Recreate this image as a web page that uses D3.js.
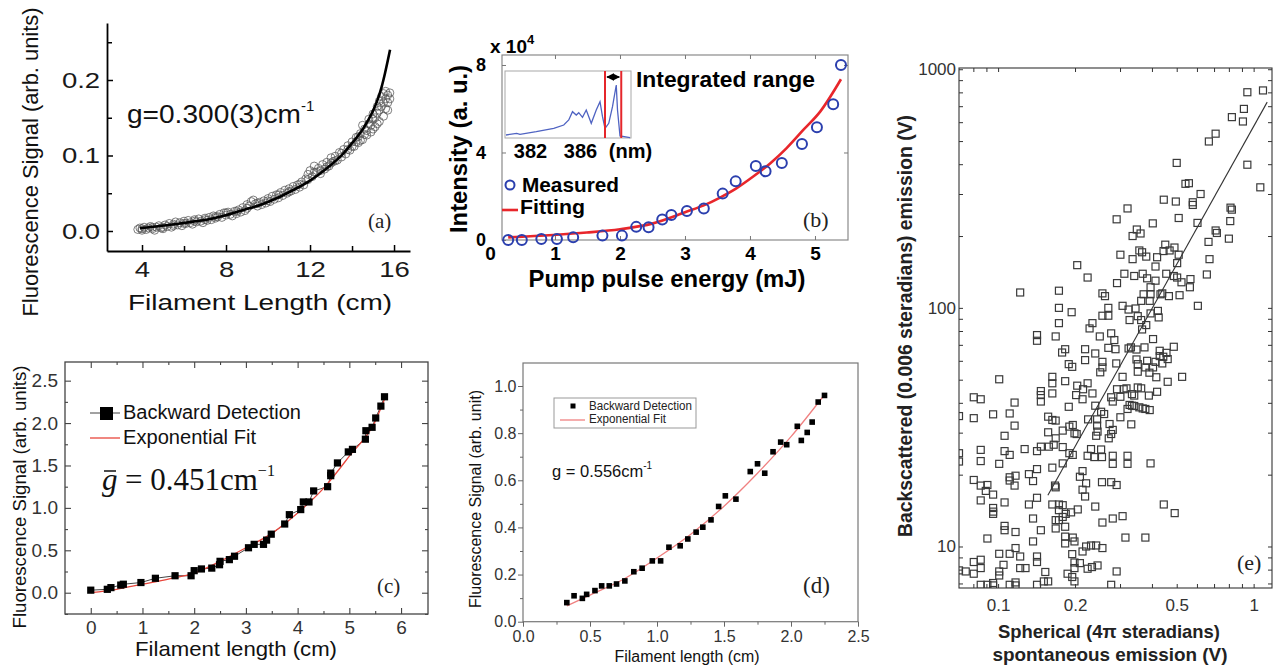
<!DOCTYPE html>
<html><head><meta charset="utf-8">
<script src="https://cdn.jsdelivr.net/npm/d3@7"></script>
<style>body{margin:0;background:#fff}svg{display:block}</style>
</head><body>
<svg id="c" width="1276" height="669"></svg>
<script>
// ================= DATA =================
// Panel (a)
const aXTicks=[4,8,12,16], aXMinor=[6,10,14], aYTicks=[0,0.1,0.2], aYMinor=[0.05,0.15,0.25];
const aPts=[[3.8,0.002],[3.9,0.004],[4.0,0.003],[4.1,0.005],[4.2,0.002],[4.3,0.004],[4.4,0.006],[4.5,0.003],[4.6,0.001],[4.7,0.005],[4.8,0.007],[4.9,0.004],[5.0,0.003],[5.1,0.008],[5.2,0.006],[5.3,0.010],[5.4,0.005],[5.5,0.009],[5.6,0.012],[5.7,0.008],[5.8,0.011],[5.9,0.007],[6.0,0.013],[6.1,0.010],[6.2,0.014],[6.3,0.011],[6.4,0.009],[6.5,0.015],[6.6,0.012],[6.7,0.016],[6.8,0.013],[6.9,0.011],[7.0,0.017],[7.1,0.014],[7.2,0.018],[7.3,0.015],[7.4,0.020],[7.5,0.017],[7.6,0.019],[7.7,0.022],[7.8,0.018],[7.9,0.024],[8.0,0.021],[8.1,0.025],[8.2,0.022],[8.3,0.020],[8.4,0.026],[8.5,0.023],[8.6,0.028],[8.7,0.025],[8.8,0.031],[8.9,0.027],[9.0,0.035],[9.1,0.033],[9.2,0.039],[9.3,0.041],[9.4,0.036],[9.5,0.033],[9.6,0.038],[9.7,0.035],[9.8,0.040],[9.9,0.037],[10.0,0.043],[10.1,0.039],[10.2,0.046],[10.3,0.042],[10.4,0.048],[10.5,0.044],[10.6,0.051],[10.7,0.047],[10.8,0.054],[10.9,0.050],[11.0,0.056],[11.1,0.053],[11.2,0.059],[11.3,0.055],[11.4,0.061],[11.5,0.058],[11.6,0.065],[11.7,0.061],[11.8,0.069],[11.9,0.075],[12.0,0.080],[12.1,0.072],[12.2,0.086],[12.3,0.078],[12.4,0.083],[12.5,0.076],[12.6,0.088],[12.7,0.082],[12.8,0.091],[12.9,0.086],[13.0,0.097],[13.1,0.092],[13.2,0.099],[13.3,0.094],[13.4,0.104],[13.5,0.098],[13.6,0.108],[13.7,0.102],[13.8,0.113],[13.9,0.107],[14.0,0.118],[14.1,0.112],[14.2,0.124],[14.3,0.117],[14.4,0.129],[14.5,0.121],[14.6,0.135],[14.7,0.127],[14.8,0.142],[14.9,0.131],[15.0,0.148],[15.1,0.138],[15.2,0.156],[15.3,0.145],[15.4,0.165],[15.5,0.152],[15.6,0.175],[15.7,0.160],[15.8,0.183],
[14.3,0.125],[14.5,0.140],[14.6,0.128],[14.8,0.148],[14.9,0.140],[15.0,0.155],[15.1,0.150],[15.2,0.165],[15.3,0.172],[15.3,0.160],[15.4,0.178],[15.5,0.182],[15.5,0.170],[15.6,0.185],[15.6,0.162],[15.7,0.180],[15.7,0.170],[15.8,0.175],[15.2,0.142],[15.0,0.135],[14.7,0.133],[14.4,0.120],[14.2,0.118],[14.0,0.112],[13.8,0.108],[13.5,0.103],[13.2,0.093],[13.0,0.090],[12.8,0.085],[12.5,0.080],[12.2,0.078],[11.9,0.068],[11.5,0.062],[11.0,0.052],[10.5,0.048],[10.0,0.040],[9.5,0.037],[9.0,0.030],[8.5,0.026],[8.0,0.024],[7.5,0.019],[7.0,0.015],[6.5,0.013],[6.0,0.010],[5.5,0.007],[5.0,0.005],[4.5,0.005],[4.0,0.001]];
const aFitX=[3.9,4.86,5.65,6.44,7.24,8.03,8.82,9.62,10.41,11.2,12.0,12.8,13.59,14.06,14.54,14.94,15.18,15.41,15.57,15.81];
const aFitY=[0.0036,0.0066,0.0093,0.0124,0.0159,0.0212,0.0278,0.0344,0.0433,0.0543,0.0667,0.083,0.1029,0.1183,0.136,0.156,0.171,0.191,0.209,0.240];

// Panel (b)
const bXTicks=[0,1,2,3,4,5], bYTicks=[0,4,8];
const bX=[0.28,0.49,0.79,1.03,1.28,1.73,2.03,2.25,2.44,2.65,2.79,3.03,3.29,3.58,3.78,4.09,4.24,4.49,4.80,5.03,5.28,5.40];
const bY=[0,0,0.05,0.05,0.12,0.2,0.2,0.6,0.58,0.94,1.14,1.33,1.44,2.12,2.68,3.38,3.14,3.52,4.39,5.15,6.21,8.0];
const bFitX=[0.28,0.97,1.49,2.0,2.51,3.03,3.28,3.54,3.79,4.05,4.31,4.56,4.82,5.08,5.40];
const bFitY=[0.12,0.23,0.34,0.49,0.76,1.30,1.57,1.94,2.36,2.90,3.50,4.19,5.03,5.87,7.35];
const bInsetTicks=[382,386,390], bInsetLabels=["382","386","(nm)"];
const bSpecX=[380.08,380.93,381.2,382.5,383.9,384.7,385.1,385.4,385.7,385.9,386.2,386.5,386.9,387.3,387.6,387.8,388.0,388.3,388.6,388.9,389.0,389.2,390.0];
const bSpecY=[0.045,0.07,0.055,0.094,0.144,0.194,0.269,0.393,0.343,0.378,0.309,0.418,0.219,0.418,0.542,0.318,0.144,0.219,0.468,0.791,0.418,0.03,0.005];
const bRange=[388.0,389.3];

// Panel (c)
const cXTicks=[0,1,2,3,4,5,6], cXMinor=[0.5,1.5,2.5,3.5,4.5,5.5], cYTicks=[0,0.5,1.0,1.5,2.0,2.5], cYMinor=[-0.25,0.25,0.75,1.25,1.75,2.25];
const cX=[0,0.32,0.39,0.58,0.63,0.97,1.25,1.63,1.94,2.0,2.14,2.34,2.49,2.50,2.68,2.78,3.05,3.16,3.34,3.40,3.49,3.75,3.84,4.06,4.11,4.22,4.31,4.58,4.64,4.64,4.77,4.98,5.06,5.31,5.32,5.44,5.51,5.61,5.68];
const cY=[0.03,0.04,0.06,0.09,0.10,0.12,0.17,0.20,0.20,0.26,0.28,0.29,0.33,0.37,0.39,0.43,0.53,0.57,0.57,0.62,0.69,0.81,0.92,0.98,1.07,1.07,1.20,1.25,1.38,1.41,1.53,1.66,1.69,1.81,1.91,1.95,2.06,2.20,2.31];
const cFitX=[0,0.5,1,1.5,2,2.5,3,3.5,4,4.5,5,5.5,5.68];
const cFitY=[0,0.04,0.10,0.16,0.23,0.37,0.53,0.70,0.94,1.23,1.61,2.02,2.28];

// Panel (d)
const dXTicks=[0,0.5,1.0,1.5,2.0,2.5], dXMinor=[0.25,0.75,1.25,1.75,2.25], dYTicks=[0,0.2,0.4,0.6,0.8,1.0], dYMinor=[0.1,0.3,0.5,0.7,0.9];
const dX=[0.327,0.381,0.443,0.475,0.537,0.587,0.644,0.698,0.760,0.827,0.889,0.965,1.027,1.089,1.173,1.230,1.292,1.342,1.403,1.460,1.510,1.589,1.696,1.750,1.804,1.866,1.923,1.968,2.047,2.077,2.121,2.158,2.203,2.250];
const dY=[0.081,0.110,0.099,0.116,0.132,0.152,0.152,0.160,0.173,0.212,0.227,0.258,0.258,0.316,0.322,0.351,0.380,0.401,0.432,0.489,0.534,0.520,0.637,0.670,0.630,0.721,0.762,0.751,0.829,0.769,0.803,0.847,0.932,0.960];
const dFitX=[0.327,0.5,0.75,1.0,1.25,1.5,1.75,2.0,2.25];
const dFitY=[0.067,0.113,0.18,0.27,0.37,0.49,0.63,0.785,0.963];

// Panel (e)
const eXTicks=[0.08,0.09,0.1,0.2,0.3,0.4,0.5,0.6,0.7,0.8,0.9,1.0], eXLabeled=[0.1,0.2,0.5,1.0];
const eYTicks=[7,8,9,10,20,30,40,50,60,70,80,90,100,200,300,400,500,600,700,800,900,1000], eYLabeled=[10,100,1000];
const eFitX=[0.1566,1.13], eFitY=[16.4,728];
const ePts=[[1.088,815],[0.945,801],[0.916,682],[0.822,630],[0.908,604],[0.710,537],[0.668,498],[0.500,405],[0.945,398],[0.558,333],[0.541,331],[1.062,320],[0.620,300],[0.445,284],[0.496,279],[0.578,277],[0.578,270],[0.321,261],[0.812,263],[0.822,258],[0.291,235],[0.509,238],[0.403,226],[0.603,227],[0.810,231],[0.349,213],[0.361,205],[0.336,200],[0.710,211],[0.718,206],[0.800,195],[0.666,189],[0.451,184],[0.490,179],[0.469,174],[0.444,173],[0.357,174],[0.366,171],[0.301,167],[0.380,164],[0.336,160],[0.419,163],[0.509,167],[0.672,160],[0.502,154],[0.204,151],[0.413,149],
[0.224,134],[0.292,127],[0.122,116],[0.173,118],[0.256,115],[0.262,112],[0.173,100],[0.194,95.9],[0.270,100],[0.256,92.7],[0.270,92.7],[0.173,86.3],[0.234,86.3],[0.228,82.0],[0.142,76.9],[0.142,72.8],[0.168,75.9],[0.250,75.9],[0.277,78.2],[0.285,73.3],[0.183,67.1],[0.178,65.0],[0.219,67.1],[0.240,64.4],[0.270,68.0],[0.288,67.1],[0.189,58.1],[0.195,56.6],[0.219,60.4],[0.256,59.4],[0.256,56.3],[0.251,53.7],[0.290,58.5],[0.101,50.2],[0.163,51.4],[0.163,48.3],[0.183,49.3],[0.204,47.2],[0.224,48.3],[0.215,45.6],[0.147,44.8],[0.147,43.1],[0.163,43.8],[0.202,43.1],[0.214,41.4],[0.234,43.8],[0.0803,42.2],[0.0855,41.4],[0.116,40.1],[0.147,40.5],[0.189,38.5],[0.240,38.9],[0.277,42.2],[0.281,40.5],[0.253,36.7],[0.0803,34.5],[0.0956,35.8],[0.111,36.1],[0.157,35.0],[0.163,33.9],[0.168,33.7],[0.225,34.1],[0.244,34.1],[0.260,35.9],[0.116,32.1],[0.190,31.8],[0.196,32.3],[0.244,32.1],[0.273,32.6],[0.0703,35.2],
[0.312,139],[0.341,136],[0.368,139],[0.383,133],[0.413,130],[0.455,139],[0.487,136],[0.502,134],[0.522,128],[0.566,132],[0.563,122],[0.656,138],[0.395,122],[0.371,114],[0.395,114],[0.432,114],[0.439,115],[0.466,112],[0.513,113],[0.363,107],[0.392,107],[0.605,102],[0.307,102],[0.324,98.4],[0.345,99.4],[0.422,97.1],[0.352,92.3],[0.395,94.8],[0.425,91.2],[0.327,88.9],[0.363,88.9],[0.380,84.7],[0.366,81.2],[0.404,74.0],[0.324,67.6],[0.331,68.3],[0.348,66.9],[0.374,68.3],[0.487,68.7],[0.429,66.1],[0.456,64.8],[0.429,62.8],[0.443,62.4],[0.461,61.0],[0.348,60.8],[0.383,60.0],[0.413,59.4],[0.439,58.5],[0.352,58.1],[0.377,56.3],[0.404,56.3],[0.352,54.0],[0.391,53.5],[0.307,51.4],[0.416,51.2],[0.461,49.0],[0.525,51.4],[0.292,45.6],[0.310,45.6],[0.318,46.0],[0.352,46.4],[0.363,46.0],[0.419,44.5],[0.301,42.4],[0.334,43.5],[0.341,42.9],[0.389,42.9],[0.327,39.2],[0.334,38.9],[0.341,38.8],[0.357,38.3],[0.368,37.9],[0.377,37.7],[0.392,37.3],[0.321,37.7],[0.301,34.8],[0.332,32.5],
[0.106,29.1],[0.157,30.1],[0.168,28.4],[0.179,30.6],[0.199,29.8],[0.203,29.6],[0.242,29.1],[0.245,30.3],[0.277,29.6],[0.281,30.8],[0.271,28.4],[0.0855,25.4],[0.106,25.1],[0.111,24.2],[0.127,25.6],[0.142,25.1],[0.147,26.2],[0.158,26.2],[0.165,26.7],[0.179,26.1],[0.190,24.6],[0.196,24.2],[0.224,24.0],[0.231,25.6],[0.238,23.7],[0.253,25.5],[0.255,23.7],[0.281,24.0],[0.0855,22.8],[0.101,22.2],[0.0703,22.7],[0.142,21.1],[0.163,21.4],[0.179,22.3],[0.281,22.2],[0.214,20.7],[0.111,19.5],[0.117,19.8],[0.111,18.9],[0.132,20.1],[0.137,18.8],[0.209,19.6],[0.221,18.4],[0.255,18.6],[0.277,18.6],[0.291,18.1],[0.0803,19.0],[0.0855,18.0],[0.0908,18.1],[0.116,18.0],[0.167,18.0],[0.0895,17.1],[0.0956,16.5],[0.214,17.3],[0.168,17.7],[0.219,16.2],[0.142,16.0],[0.0855,15.6],[0.106,15.3],[0.132,15.0],[0.163,15.0],[0.173,15.0],[0.179,14.9],[0.205,14.3],[0.173,14.2],[0.193,13.9],[0.184,13.7],[0.0956,14.5],[0.0956,14.0],[0.0956,13.7],[0.240,14.7],[0.179,13.3],[0.168,12.9],[0.173,12.9],[0.137,13.1],[0.281,13.1],[0.256,12.6],[0.106,12.2],[0.106,11.7],[0.168,11.9],[0.183,12.1],[0.117,11.5],[0.147,11.7],[0.183,11.0],[0.196,10.9],[0.0908,10.8],[0.137,10.5],[0.183,10.3],[0.199,10.5],[0.221,10.0],[0.231,10.1],[0.242,10.1],[0.256,9.85],[0.117,9.85],[0.101,9.32],[0.111,9.32],[0.122,9.08],[0.142,9.08],[0.195,9.29],[0.214,9.53],[0.0803,8.61],[0.0855,8.80],[0.142,8.61],[0.199,8.57],[0.209,8.52],[0.105,8.38],[0.0855,8.12],[0.122,8.12],[0.128,8.12],[0.199,8.12],[0.224,8.07],[0.233,8.20],[0.245,8.33],[0.0747,7.86],[0.0803,7.69],[0.101,7.86],[0.101,7.56],[0.153,7.82],[0.187,7.69],[0.195,7.45],[0.291,7.86],[0.0703,7.94],[0.0855,6.91],[0.0908,6.91],[0.0956,7.03],[0.0956,6.87],[0.111,6.91],[0.117,7.07],[0.117,6.87],[0.142,6.91],[0.151,7.14],[0.157,7.14],[0.199,7.14],[0.277,6.91],
[0.321,24.0],[0.321,22.2],[0.395,22.3],[0.445,15.0],[0.491,13.8],[0.307,13.4],[0.315,10.9],[0.377,10.9],[0.0703,24.6]];

// ================= DRAWING =================
const SANS='Arial, "Liberation Sans", Helvetica, sans-serif';
const SERIF='"Times New Roman", "Liberation Serif", serif';
const svg=d3.select('#c');

function txt(p,s,x,y,o={}){
  const t=p.append('text').attr('x',x).attr('y',y).text(s)
    .attr('font-family',o.family||SANS).attr('font-size',o.size||16)
    .attr('font-weight',o.weight||'normal').attr('fill',o.fill||'#000')
    .attr('text-anchor',o.anchor||'start');
  if(o.italic) t.attr('font-style','italic');
  if(o.len) t.attr('textLength',o.len).attr('lengthAdjust','spacingAndGlyphs');
  if(o.rotate) t.attr('transform',`rotate(-90,${x},${y})`);
  return t;
}
function ax(p,axis,tx,ty,o={}){
  const g=p.append('g').attr('transform',`translate(${tx},${ty})`).call(axis);
  g.attr('font-family',o.family||SANS).attr('font-size',o.size||12).attr('font-weight',o.weight||'normal');
  if(o.noDomain) g.select('.domain').remove();
  else g.select('.domain').attr('stroke',o.stroke||'#000').attr('stroke-width',o.sw||1);
  g.selectAll('.tick line').attr('stroke',o.stroke||'#000').attr('stroke-width',o.tw||1);
  g.selectAll('.tick text').attr('fill',o.fill||'#000');
  if(o.sx) g.selectAll('.tick text').attr('transform',`scale(${o.sx},1)`);
  return g;
}

// ---------- (a)
{
  const g=svg.append('g');
  const x=d3.scaleLinear().domain([2.333,16.76]).range([107,410]);
  const y=d3.scaleLinear().domain([-0.0265,0.2755]).range([251,23]);
  ax(g,d3.axisBottom(x).tickValues(aXMinor).tickSize(-5).tickSizeOuter(0).tickFormat(''),0,251,{noDomain:true,tw:1.5});
  ax(g,d3.axisLeft(y).tickValues(aYMinor).tickSize(-5).tickSizeOuter(0).tickFormat(''),107,0,{noDomain:true,tw:1.5});
  ax(g,d3.axisBottom(x).tickValues(aXTicks).tickSize(-6).tickSizeOuter(0).tickPadding(10).tickFormat(d3.format('d')),0,251,{size:22,sw:1.8,tw:1.5,sx:1.25,fill:'#1a1a1a'});
  ax(g,d3.axisLeft(y).tickValues(aYTicks).tickSize(-6).tickSizeOuter(0).tickPadding(5.5).tickFormat(d3.format('.1f')),107,0,{size:22,sw:1.8,tw:1.5,sx:1.25,fill:'#1a1a1a'});
  g.append('g').selectAll('circle').data(aPts).join('circle')
    .attr('cx',d=>x(d[0])).attr('cy',d=>y(d[1])).attr('r',4)
    .attr('fill','none').attr('stroke','#555').attr('stroke-opacity',0.75).attr('stroke-width',1);
  g.append('path').datum(d3.zip(aFitX,aFitY)).attr('fill','none').attr('stroke','#000').attr('stroke-width',2.6)
    .attr('d',d3.line().x(d=>x(d[0])).y(d=>y(d[1])).curve(d3.curveMonotoneX));
  const t=txt(g,'',127,123,{size:26,fill:'#111'});
  t.append('tspan').text('g=0.300(3)cm').attr('textLength',174).attr('lengthAdjust','spacingAndGlyphs');
  t.append('tspan').text('-1').attr('font-size',15).attr('dy',-12);
  txt(g,'(a)',368,228,{family:SERIF,size:21,fill:'#222'});
  txt(g,'Fluorescence Signal (arb. units)',38,162,{size:22,anchor:'middle',rotate:true,len:309,fill:'#111'});
  txt(g,'Filament Length (cm)',260,310,{size:22,anchor:'middle',len:264,fill:'#111'});
}

// ---------- (b)
{
  const g=svg.append('g');
  const x=d3.scaleLinear().domain([0.185,5.508]).range([502,848]);
  const y=d3.scaleLinear().domain([0,8.457]).range([240,55]);
  g.append('rect').attr('x',502).attr('y',55).attr('width',346).attr('height',185).attr('fill','none').attr('stroke','#8a8a8a').attr('stroke-width',1.2);
  const bx=ax(g,d3.axisBottom(x).tickValues(bXTicks).tickSize(-4).tickSizeOuter(0).tickPadding(7).tickFormat(d=>d),0,240,{noDomain:true,size:19,weight:'bold',stroke:'#777'});
  bx.selectAll('.tick').filter(d=>d===0).select('line').remove();
  ax(g,d3.axisTop(x).tickValues(bXTicks.slice(1)).tickSize(-4).tickSizeOuter(0).tickFormat(''),0,55,{noDomain:true,stroke:'#777'});
  ax(g,d3.axisLeft(y).tickValues(bYTicks).tickSize(-4).tickSizeOuter(0).tickPadding(16).tickFormat(d=>d),502,0,{noDomain:true,size:18,weight:'bold',stroke:'#777'});
  ax(g,d3.axisRight(y).tickValues(bYTicks.slice(1)).tickSize(-4).tickSizeOuter(0).tickFormat(''),848,0,{noDomain:true,stroke:'#777'});
  g.append('path').datum(d3.zip(bFitX,bFitY)).attr('fill','none').attr('stroke','#e8262b').attr('stroke-width',2.6)
    .attr('d',d3.line().x(d=>x(d[0])).y(d=>y(d[1])).curve(d3.curveMonotoneX));
  g.append('g').selectAll('circle').data(d3.zip(bX,bY)).join('circle')
    .attr('cx',d=>x(d[0])).attr('cy',d=>y(d[1])).attr('r',5)
    .attr('fill','none').attr('stroke','#2b3fae').attr('stroke-width',2);
  // inset
  const xi=d3.scaleLinear().domain([380,390.08]).range([505,631]);
  const yi=d3.scaleLinear().domain([0,1]).range([138,71]);
  g.append('rect').attr('x',505).attr('y',71).attr('width',126).attr('height',67).attr('fill','#fff').attr('stroke','#a8a8a8').attr('stroke-width',1);
  ax(g,d3.axisBottom(xi).tickValues(bInsetTicks).tickSize(0).tickPadding(6).tickFormat((d,i)=>bInsetLabels[i]),0,138,{noDomain:true,size:20,weight:'bold'});
  g.append('path').datum(d3.zip(bSpecX,bSpecY)).attr('fill','none').attr('stroke','#4f63c2').attr('stroke-width',1.3)
    .attr('d',d3.line().x(d=>xi(d[0])).y(d=>yi(d[1])));
  g.selectAll('line.rng').data(bRange).join('line').attr('class','rng')
    .attr('x1',d=>xi(d)).attr('x2',d=>xi(d)).attr('y1',71).attr('y2',138).attr('stroke','#e5262b').attr('stroke-width',2);
  const defs=svg.append('defs');
  defs.append('marker').attr('id','ah').attr('viewBox','0 0 10 10').attr('refX',9).attr('refY',5)
    .attr('markerWidth',5).attr('markerHeight',5).attr('orient','auto-start-reverse')
    .append('path').attr('d','M0,0L10,5L0,10z').attr('fill','#000');
  g.append('line').attr('x1',xi(bRange[0])+2).attr('x2',xi(bRange[1])-2).attr('y1',77).attr('y2',77)
    .attr('stroke','#000').attr('stroke-width',1.5).attr('marker-start','url(#ah)').attr('marker-end','url(#ah)');
  txt(g,'Integrated range',636,87,{size:22,weight:'bold',len:179});
  const t=txt(g,'x 10',490,53,{size:19,weight:'bold'});
  t.append('tspan').text('4').attr('font-size',13).attr('dy',-9);
  g.append('circle').attr('cx',510).attr('cy',185).attr('r',4.5).attr('fill','none').attr('stroke','#2b3fae').attr('stroke-width',2);
  txt(g,'Measured',522,192,{size:21,weight:'bold',len:97});
  g.append('line').attr('x1',502).attr('x2',518).attr('y1',210).attr('y2',210).attr('stroke','#e8262b').attr('stroke-width',2.6);
  txt(g,'Fitting',520,214,{size:21,weight:'bold',len:65});
  txt(g,'(b)',803,227,{family:SERIF,size:22,fill:'#222'});
  txt(g,'Intensity (a. u.)',467,149,{size:24,weight:'bold',anchor:'middle',rotate:true,len:168});
  txt(g,'Pump pulse energy (mJ)',667,287,{size:23,weight:'bold',anchor:'middle',len:277});
}

// ---------- (c)
{
  const g=svg.append('g');
  const x=d3.scaleLinear().domain([-0.498,6.521]).range([65,428]);
  const y=d3.scaleLinear().domain([-0.251,2.72]).range([614,362]);
  const st={stroke:'#444',noDomain:true,tw:1.1};
  g.append('rect').attr('x',65).attr('y',362).attr('width',363).attr('height',252).attr('fill','none').attr('stroke','#444').attr('stroke-width',1.3);
  ax(g,d3.axisBottom(x).tickValues(cXTicks).tickSize(-6).tickSizeOuter(0).tickPadding(7).tickFormat(d3.format('d')),0,614,{...st,size:19,fill:'#333'});
  ax(g,d3.axisBottom(x).tickValues(cXMinor).tickSize(-3).tickSizeOuter(0).tickFormat(''),0,614,st);
  ax(g,d3.axisTop(x).tickValues(cXTicks).tickSize(-6).tickSizeOuter(0).tickFormat(''),0,362,st);
  ax(g,d3.axisTop(x).tickValues(cXMinor).tickSize(-3).tickSizeOuter(0).tickFormat(''),0,362,st);
  ax(g,d3.axisLeft(y).tickValues(cYTicks).tickSize(-6).tickSizeOuter(0).tickPadding(7).tickFormat(d3.format('.1f')),65,0,{...st,size:19,fill:'#333'});
  ax(g,d3.axisLeft(y).tickValues(cYMinor).tickSize(-3).tickSizeOuter(0).tickFormat(''),65,0,st);
  ax(g,d3.axisRight(y).tickValues(cYTicks).tickSize(-6).tickSizeOuter(0).tickFormat(''),428,0,st);
  ax(g,d3.axisRight(y).tickValues(cYMinor).tickSize(-3).tickSizeOuter(0).tickFormat(''),428,0,st);
  g.append('path').datum(d3.zip(cX,cY)).attr('fill','none').attr('stroke','#444').attr('stroke-width',1)
    .attr('d',d3.line().x(d=>x(d[0])).y(d=>y(d[1])));
  g.append('path').datum(d3.zip(cFitX,cFitY)).attr('fill','none').attr('stroke','#e8463c').attr('stroke-width',1.3)
    .attr('d',d3.line().x(d=>x(d[0])).y(d=>y(d[1])).curve(d3.curveMonotoneX));
  g.append('g').selectAll('rect').data(d3.zip(cX,cY)).join('rect')
    .attr('x',d=>x(d[0])-3.6).attr('y',d=>y(d[1])-3.6).attr('width',7.2).attr('height',7.2).attr('fill','#000');
  g.append('line').attr('x1',90).attr('x2',120).attr('y1',413).attr('y2',413).attr('stroke','#444').attr('stroke-width',1);
  g.append('rect').attr('x',100).attr('y',407).attr('width',13).attr('height',13).attr('fill','#000');
  txt(g,'Backward Detection',123,419,{size:20,len:178,fill:'#111'});
  g.append('line').attr('x1',90).attr('x2',120).attr('y1',438).attr('y2',438).attr('stroke','#e8463c').attr('stroke-width',1.3);
  txt(g,'Exponential Fit',123,444,{size:20,len:133,fill:'#111'});
  txt(g,'g',102,490,{family:SERIF,size:31,italic:true,fill:'#111'});
  g.append('line').attr('x1',104).attr('x2',116).attr('y1',471).attr('y2',471).attr('stroke','#111').attr('stroke-width',1.5);
  const t=txt(g,'',125,490,{family:SERIF,size:31,fill:'#111'});
  t.append('tspan').text('= 0.451cm');
  t.append('tspan').text('\u22121').attr('font-size',16).attr('dy',-14);
  txt(g,'(c)',377,593,{family:SERIF,size:21,fill:'#222'});
  txt(g,'Fluorescence Signal (arb. units)',26,497,{size:19,anchor:'middle',rotate:true,len:263,fill:'#111'});
  txt(g,'Filament length (cm)',236,656,{size:21,anchor:'middle',len:202,fill:'#111'});
}

// ---------- (d)
{
  const g=svg.append('g');
  const x=d3.scaleLinear().domain([0,2.5]).range([523,858]);
  const y=d3.scaleLinear().domain([0,1.0976]).range([621.7,363]);
  const st={stroke:'#666',noDomain:true};
  g.append('rect').attr('x',523).attr('y',363).attr('width',335).attr('height',258.7).attr('fill','none').attr('stroke','#777').attr('stroke-width',1.2);
  ax(g,d3.axisBottom(x).tickValues(dXTicks).tickSize(5).tickSizeOuter(0).tickPadding(4).tickFormat(d3.format('.1f')),0,621.7,{...st,size:16,fill:'#333'});
  ax(g,d3.axisBottom(x).tickValues(dXMinor).tickSize(3).tickSizeOuter(0).tickFormat(''),0,621.7,st);
  ax(g,d3.axisLeft(y).tickValues(dYTicks).tickSize(5).tickSizeOuter(0).tickPadding(1.5).tickFormat(d3.format('.1f')),523,0,{...st,size:16,fill:'#333'});
  ax(g,d3.axisLeft(y).tickValues(dYMinor).tickSize(3).tickSizeOuter(0).tickFormat(''),523,0,st);
  g.append('path').datum(d3.zip(dFitX,dFitY)).attr('fill','none').attr('stroke','#f08080').attr('stroke-width',1.3)
    .attr('d',d3.line().x(d=>x(d[0])).y(d=>y(d[1])).curve(d3.curveMonotoneX));
  g.append('g').selectAll('rect').data(d3.zip(dX,dY)).join('rect')
    .attr('x',d=>x(d[0])-2.8).attr('y',d=>y(d[1])-2.8).attr('width',5.6).attr('height',5.6).attr('fill','#000');
  g.append('rect').attr('x',554).attr('y',398).attr('width',142).attr('height',30).attr('fill','none').attr('stroke','#999').attr('stroke-width',1);
  g.append('rect').attr('x',570.5).attr('y',403.5).attr('width',5).attr('height',5).attr('fill','#000');
  txt(g,'Backward Detection',589,410,{size:12,len:103,fill:'#222'});
  g.append('line').attr('x1',560).attr('x2',585).attr('y1',420).attr('y2',420).attr('stroke','#f08080').attr('stroke-width',1.3);
  txt(g,'Exponential Fit',589,423,{size:12,len:77,fill:'#222'});
  const t=txt(g,'',552,477,{size:16.5,fill:'#111'});
  t.append('tspan').text('g = 0.556cm');
  t.append('tspan').text('-1').attr('font-size',10).attr('dy',-8);
  txt(g,'(d)',803,593,{family:SERIF,size:23,fill:'#222'});
  txt(g,'Fluorescence Signal (arb. unit)',481,499,{size:16,anchor:'middle',rotate:true,len:218,fill:'#111'});
  txt(g,'Filament length (cm)',687,662,{size:16,anchor:'middle',len:145,fill:'#111'});
}

// ---------- (e)
{
  const g=svg.append('g');
  const x=d3.scaleLog().domain([0.0703,1.18]).range([959,1272]);
  const y=d3.scaleLog().domain([6.7,1012]).range([588,68]);
  const st={stroke:'#333',noDomain:true};
  const xl=new Set(eXLabeled), yl=new Set(eYLabeled);
  const fx=d=>xl.has(d)?(d===1?'1':String(d)):'';
  const fy=d=>yl.has(d)?String(d):'';
  ax(g,d3.axisBottom(x).tickValues(eXTicks).tickSize(-4).tickSizeOuter(0).tickPadding(11).tickFormat(fx),0,588,{...st,size:17,fill:'#333'});
  ax(g,d3.axisTop(x).tickValues(eXTicks).tickSize(-4).tickSizeOuter(0).tickFormat(''),0,68,st);
  ax(g,d3.axisLeft(y).tickValues(eYTicks).tickSize(-4).tickSizeOuter(0).tickPadding(3).tickFormat(fy),959,0,{...st,size:17,fill:'#333'});
  ax(g,d3.axisRight(y).tickValues(eYTicks).tickSize(-4).tickSizeOuter(0).tickFormat(''),1272,0,st);
  g.append('defs').append('clipPath').attr('id','clipE').append('rect').attr('x',959).attr('y',68).attr('width',313).attr('height',520);
  const pg=g.append('g').attr('clip-path','url(#clipE)');
  pg.selectAll('rect').data(ePts).join('rect')
    .attr('x',d=>x(d[0])-3.5).attr('y',d=>y(d[1])-3.5).attr('width',7).attr('height',7)
    .attr('fill','none').attr('stroke','#3a3a3a').attr('stroke-width',1.2);
  pg.append('path').datum(d3.zip(eFitX,eFitY)).attr('fill','none').attr('stroke','#333').attr('stroke-width',1.1)
    .attr('d',d3.line().x(d=>x(d[0])).y(d=>y(d[1])));
  g.append('rect').attr('x',959).attr('y',68).attr('width',313).attr('height',520).attr('fill','none').attr('stroke','#333').attr('stroke-width',1.1);
  txt(g,'(e)',1237,570,{family:SERIF,size:22,fill:'#222'});
  txt(g,'Backscattered (0.006 steradians) emission (V)',912,326,{size:19.4,weight:'bold',anchor:'middle',rotate:true,len:422,fill:'#222'});
  txt(g,'Spherical (4\u03c0 steradians)',1109,638,{size:19,weight:'bold',anchor:'middle',len:222,fill:'#222'});
  txt(g,'spontaneous emission (V)',1110,661,{size:19,weight:'bold',anchor:'middle',len:235,fill:'#222'});
}
</script>
</body></html>
